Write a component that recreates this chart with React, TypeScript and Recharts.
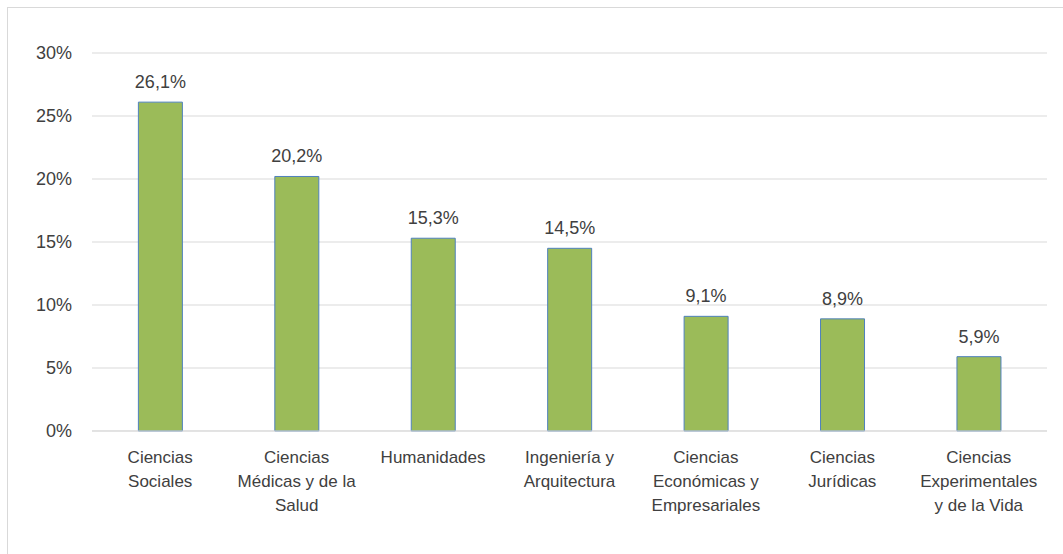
import { BarChart, Bar, XAxis, YAxis, CartesianGrid, LabelList } from 'recharts'

const categories = [
  'Ciencias\nSociales',
  'Ciencias\nMédicas y de la\nSalud',
  'Humanidades',
  'Ingeniería y\nArquitectura',
  'Ciencias\nEconómicas y\nEmpresariales',
  'Ciencias\nJurídicas',
  'Ciencias\nExperimentales\ny de la Vida',
]
const shares = [26.1, 20.2, 15.3, 14.5, 9.1, 8.9, 5.9]
const yTicks = [0, 5, 10, 15, 20, 25, 30]

const data = categories.map((name, i) => ({ name, value: shares[i] }))

const FONT = '"Liberation Sans", Arial, sans-serif'

function CategoryTick({ x, y, payload }: any) {
  const lines = String(payload.value).split('\n')
  return (
    <text x={x} y={y} textAnchor="middle" fill="#404040" fontSize={17} fontFamily={FONT}>
      {lines.map((l, i) => (
        <tspan key={i} x={x} dy={i === 0 ? 24 : 24}>{l}</tspan>
      ))}
    </text>
  )
}

export default function App() {
  return (
    <div style={{ position: 'fixed', left: 0, top: 0, width: 1063, height: 554, background: '#fff', overflow: 'hidden' }}>
      <div style={{ position: 'absolute', left: 7, top: 7, width: 1070, height: 560, border: '1px solid #D9D9D9' }} />
      <div style={{ position: 'absolute', left: 0, top: 0 }}>
        <BarChart width={1063} height={554} data={data} margin={{ top: 53, right: 16, bottom: 0, left: 0 }} barCategoryGap="34%">
          <CartesianGrid vertical={false} stroke="#D9D9D9" />
          <XAxis dataKey="name" interval={0} tickLine={false} axisLine={{ stroke: '#D9D9D9' }} tick={<CategoryTick />} height={123} />
          <YAxis
            width={92}
            domain={[0, 30]}
            ticks={yTicks}
            axisLine={false}
            tickLine={false}
            tickSize={0}
            tickMargin={20}
            tickFormatter={(v) => `${v}%`}
            tick={{ fontSize: 18, fill: '#404040', fontFamily: FONT }}
          />
          <Bar dataKey="value" fill="#9BBB59" stroke="#4F81BD" strokeWidth={1} isAnimationActive={false}>
            <LabelList
              dataKey="value"
              position="top"
              offset={14}
              formatter={(v: any) => `${String(v).replace('.', ',')}%`}
              style={{ fontSize: 18, fill: '#404040', fontFamily: FONT }}
            />
          </Bar>
        </BarChart>
      </div>
    </div>
  )
}
